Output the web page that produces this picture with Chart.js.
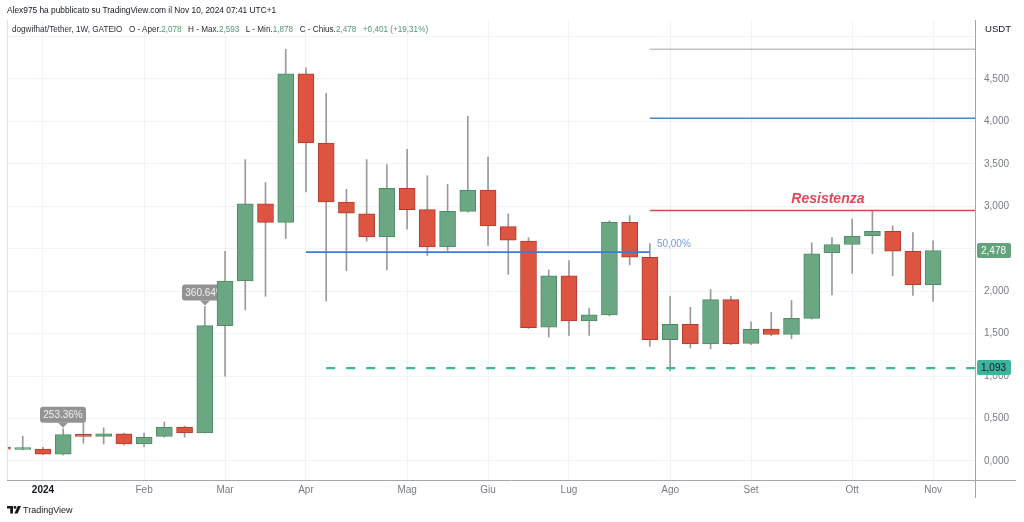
<!DOCTYPE html>
<html lang="it">
<head>
<meta charset="utf-8">
<title>dogwifhat/Tether 1W</title>
<script src="https://cdn.jsdelivr.net/npm/chart.js@4.4.1/dist/chart.umd.min.js"></script>
<style>
    html, body { margin: 0; padding: 0; background: #fff; }
    #wrap {
        position: relative; width: 1024px; height: 522px; overflow: hidden;
        font-family: "Liberation Sans", Arial, sans-serif; color: #131722;
    }
    #chart { position: absolute; left: 0; top: 0; }
    .hdr1 {
        position: absolute; left: 7px; top: 4px; font-size: 9.6px; white-space: nowrap;
        transform: scaleX(0.87); transform-origin: left center;
    }
    .hdr2 {
        position: absolute; left: 12px; top: 23px; font-size: 9.6px; white-space: nowrap; color: #2a2e39;
        transform: scaleX(0.85); transform-origin: left center;
    }
    .hdr2 .v { color: #4c9a6e; }
    .hdr2 span.sp { display: inline-block; width: 5px; }
    .usdt { position: absolute; left: 985px; top: 23px; font-size: 9.6px; }
    .footer { position: absolute; left: 7px; top: 505px; font-size: 9px; white-space: nowrap; }
    .footer svg { vertical-align: -1px; margin-right: 2px; }
</style>
</head>
<body>
<div id="wrap">
    <canvas id="chart" width="1024" height="522"></canvas>
    <div class="hdr1">Alex975 ha pubblicato su TradingView.com il Nov 10, 2024 07:41 UTC+1</div>
    <div class="hdr2">dogwifhat/Tether, 1W, GATEIO<span class="sp"></span> O - Aper.<span class="v">2,078</span><span class="sp"></span> H - Max.<span class="v">2,593</span><span class="sp"></span> L - Min.<span class="v">1,878</span><span class="sp"></span> C - Chius.<span class="v">2,478</span><span class="sp"></span> <span class="v">+0,401 (+19,31%)</span></div>
    <div class="usdt">USDT</div>
    <div class="footer"><svg width="14" height="8" viewBox="0 0 14 8"><path d="M0 0H6V7.5H3.2V2.6H0Z" fill="#131722"/><circle cx="8" cy="1.4" r="1.4" fill="#131722"/><path d="M10.8 0H14L10.6 7.5H7.4Z" fill="#131722"/></svg>TradingView</div>
</div>

<script>
// settimane (lunedì di apertura di ogni candela settimanale)
const weeks = [
    "2023-12-18", "2023-12-25", "2024-01-01", "2024-01-08", "2024-01-15", "2024-01-22",
    "2024-01-29", "2024-02-05", "2024-02-12", "2024-02-19", "2024-02-26", "2024-03-04",
    "2024-03-11", "2024-03-18", "2024-03-25", "2024-04-01", "2024-04-08", "2024-04-15",
    "2024-04-22", "2024-04-29", "2024-05-06", "2024-05-13", "2024-05-20", "2024-05-27",
    "2024-06-03", "2024-06-10", "2024-06-17", "2024-06-24", "2024-07-01", "2024-07-08",
    "2024-07-15", "2024-07-22", "2024-07-29", "2024-08-05", "2024-08-12", "2024-08-19",
    "2024-08-26", "2024-09-02", "2024-09-09", "2024-09-16", "2024-09-23", "2024-09-30",
    "2024-10-07", "2024-10-14", "2024-10-21", "2024-10-28", "2024-11-04"
];

const opens = [
    0.160, 0.135, 0.140, 0.080, 0.310, 0.290, 0.320, 0.200, 0.290, 0.400, 0.330, 1.595,
    2.120, 3.030, 2.810, 4.560, 3.745, 3.050, 2.910, 2.640, 3.210, 2.960, 2.520, 2.940,
    3.190, 2.760, 2.590, 1.575, 2.180, 1.650, 1.720, 2.810, 2.400, 1.430, 1.610, 1.380,
    1.900, 1.385, 1.555, 1.490, 1.680, 2.450, 2.550, 2.655, 2.705, 2.470, 2.078
];
const highs = [
    0.165, 0.290, 0.160, 0.380, 0.520, 0.390, 0.330, 0.330, 0.460, 0.410, 1.820, 2.470,
    3.550, 3.280, 4.850, 4.630, 4.330, 3.200, 3.550, 3.490, 3.670, 3.360, 3.260, 4.060,
    3.580, 2.910, 2.630, 2.250, 2.360, 1.800, 2.830, 2.890, 2.560, 1.940, 1.810, 2.020,
    1.940, 1.640, 1.750, 1.890, 2.570, 2.630, 2.850, 2.950, 2.770, 2.690, 2.593
];
const lows = [
    0.135, 0.130, 0.075, 0.070, 0.210, 0.200, 0.190, 0.170, 0.280, 0.280, 0.330, 1.000,
    1.780, 1.940, 2.620, 3.170, 1.885, 2.240, 2.590, 2.250, 2.730, 2.420, 2.480, 2.930,
    2.540, 2.200, 1.560, 1.460, 1.480, 1.480, 1.710, 2.310, 1.350, 1.060, 1.330, 1.320,
    1.370, 1.370, 1.475, 1.440, 1.670, 1.955, 2.210, 2.440, 2.180, 1.950, 1.878
];
const closes = [
    0.140, 0.140, 0.080, 0.310, 0.290, 0.320, 0.200, 0.280, 0.400, 0.330, 1.595, 2.120,
    3.030, 2.810, 4.560, 3.745, 3.050, 2.920, 2.640, 3.210, 2.960, 2.520, 2.940, 3.190,
    2.770, 2.600, 1.570, 2.180, 1.650, 1.720, 2.810, 2.400, 1.430, 1.610, 1.380, 1.900,
    1.380, 1.550, 1.490, 1.680, 2.440, 2.550, 2.650, 2.705, 2.470, 2.078, 2.478
];

// etichette dei mesi sull'asse del tempo (indice della settimana)
const monthIdx = [2, 7, 11, 15, 20, 24, 28, 33, 37, 42, 46];
const monthLbl = ["2024", "Feb", "Mar", "Apr", "Mag", "Giu", "Lug", "Ago", "Set", "Ott", "Nov"];

// asse dei prezzi
const priceTicks = [0, 0.5, 1, 1.5, 2, 2.5, 3, 3.5, 4, 4.5, 5];

// finestra visibile
const X_MIN = 0.272;
const X_MAX = 48.07;
const Y_MIN = -0.224;
const Y_MAX = 5.194;

// disegni: [da settimana, a settimana, prezzo]
const levelGray = [32, X_MAX, 4.850];
const levelBlue = [32, X_MAX, 4.036];
const levelResist = [32, X_MAX, 2.950];
const levelHalf = [15, 32, 2.460];
const levelSupport = [16, X_MAX, 1.093];

// etichette variazione percentuale: [settimana, testo]
const pctLabels = [[3, "253.36%"], [10, "360.64%"]];

const GREEN = "#6ba783";
const GREEN_BORDER = "#4f8a67";
const RED = "#dd5441";
const RED_BORDER = "#b13b2c";

function fmtPrice(v) {
    return v.toFixed(3).replace(".", ",");
}

function levelData(lv) {
    return [{ x: lv[0], y: lv[2] }, { x: lv[1], y: lv[2] }];
}

function levelDataset(lv, color, width, dash) {
    return {
        type: "line",
        data: levelData(lv),
        borderColor: color,
        borderWidth: width,
        borderDash: dash || [],
        pointRadius: 0,
        fill: false,
        tension: 0
    };
}

// riquadri grigi "xx%" sopra i massimi (sotto le candele)
const pctPlugin = {
    id: "pctBoxes",
    beforeDatasetsDraw(chart) {
        const ctx = chart.ctx;
        const xs = chart.scales.x;
        const ys = chart.scales.y;
        ctx.save();
        pctLabels.forEach(([i, txt]) => {
            const cx = Math.round(xs.getPixelForValue(i));
            const tip = ys.getPixelForValue(highs[i]) - 1;
            const w = 46, h = 16;
            ctx.fillStyle = "rgba(135, 135, 135, 0.9)";
            ctx.beginPath();
            ctx.roundRect(cx - w / 2, tip - 5 - h, w, h, 3);
            ctx.fill();
            ctx.beginPath();
            ctx.moveTo(cx - 5, tip - 5);
            ctx.lineTo(cx + 5, tip - 5);
            ctx.lineTo(cx, tip);
            ctx.fill();
            ctx.fillStyle = "#f2f2f2";
            ctx.font = "10px 'Liberation Sans', Arial, sans-serif";
            ctx.textAlign = "center";
            ctx.textBaseline = "middle";
            ctx.fillText(txt, cx, tip - 5 - h / 2 + 0.5);
        });
        ctx.restore();
    }
};

// testi dei disegni, cornice e prezzi sull'asse
const overlayPlugin = {
    id: "overlay",
    afterDraw(chart) {
        const ctx = chart.ctx;
        const xs = chart.scales.x;
        const ys = chart.scales.y;
        const area = chart.chartArea;
        ctx.save();

        // cornice
        ctx.strokeStyle = "#e0e3eb";
        ctx.lineWidth = 1;
        ctx.beginPath();
        ctx.moveTo(7.5, area.top);
        ctx.lineTo(7.5, area.bottom);
        ctx.stroke();
        ctx.strokeStyle = "#a3a6af";
        ctx.beginPath();
        ctx.moveTo(7, area.bottom + 0.5);
        ctx.lineTo(1016, area.bottom + 0.5);
        ctx.moveTo(area.right + 0.5, area.top);
        ctx.lineTo(area.right + 0.5, 498);
        ctx.stroke();

        // 50,00%
        ctx.fillStyle = "#6d9cf0";
        ctx.font = "10px 'Liberation Sans', Arial, sans-serif";
        ctx.textAlign = "left";
        ctx.textBaseline = "middle";
        ctx.fillText("50,00%", xs.getPixelForValue(levelHalf[1]) + 7, ys.getPixelForValue(levelHalf[2]) - 8);

        // Resistenza
        ctx.fillStyle = "#e8465a";
        ctx.font = "italic bold 14px 'Liberation Sans', Arial, sans-serif";
        ctx.textAlign = "center";
        ctx.fillText("Resistenza", xs.getPixelForValue(40.8), ys.getPixelForValue(levelResist[2]) - 11);

        // prezzi evidenziati sull'asse
        const tags = [
            [closes[closes.length - 1], "#62a37b", "#ffffff"],
            [levelSupport[2], "#3db59c", "#131722"]
        ];
        ctx.font = "10px 'Liberation Sans', Arial, sans-serif";
        ctx.textAlign = "left";
        tags.forEach(([v, bg, fg]) => {
            const y = Math.round(ys.getPixelForValue(v));
            ctx.fillStyle = bg;
            ctx.beginPath();
            ctx.roundRect(area.right + 2, y - 8, 34, 15, 2);
            ctx.fill();
            ctx.fillStyle = fg;
            ctx.fillText(fmtPrice(v), area.right + 6, y + 0.5);
        });
        ctx.restore();
    }
};

document.addEventListener("DOMContentLoaded", () => {
    const bodyData = weeks.map((w, i) => ({ x: i, y: [opens[i], closes[i]] }));
    const wickData = weeks.map((w, i) => ({ x: i, y: [lows[i], highs[i]] }));
    const up = weeks.map((w, i) => closes[i] >= opens[i]);

    new Chart(document.getElementById("chart"), {
        type: "bar",
        data: {
            datasets: [
                levelDataset(levelHalf, "#3f78dc", 1.8),
                levelDataset(levelSupport, "#3db59c", 2.2, [9, 11]),
                levelDataset(levelResist, "#d9474f", 1.6),
                levelDataset(levelBlue, "#3f8ad0", 1.6),
                levelDataset(levelGray, "#c4c4c4", 1.6),
                {
                    data: bodyData,
                    backgroundColor: up.map(u => u ? GREEN : RED),
                    borderColor: up.map(u => u ? GREEN_BORDER : RED_BORDER),
                    borderWidth: 1,
                    borderSkipped: false,
                    barThickness: 16,
                    minBarLength: 2,
                    grouped: false
                },
                {
                    data: wickData,
                    backgroundColor: "#9a9a9a",
                    borderWidth: 0,
                    barThickness: 1,
                    grouped: false
                }
            ]
        },
        options: {
            responsive: false,
            animation: false,
            devicePixelRatio: 1,
            layout: { padding: { left: 8, top: 20, right: 0, bottom: 0 } },
            plugins: {
                legend: { display: false },
                tooltip: { enabled: false }
            },
            scales: {
                x: {
                    type: "linear",
                    position: "bottom",
                    min: X_MIN,
                    max: X_MAX,
                    offset: false,
                    afterBuildTicks: s => { s.ticks = monthIdx.map(v => ({ value: v })); },
                    afterFit: s => { s.height = 42; },
                    grid: { color: "#f0f3fa", drawTicks: false, offset: false },
                    border: { display: false },
                    ticks: {
                        autoSkip: false,
                        maxRotation: 0,
                        padding: 4,
                        callback: v => monthLbl[monthIdx.indexOf(v)],
                        color: c => (c.index === 0 ? "#131722" : "#787b86"),
                        font: c => ({
                            family: "'Liberation Sans', Arial, sans-serif",
                            size: 10,
                            weight: c.index === 0 ? "bold" : "normal"
                        })
                    }
                },
                y: {
                    type: "linear",
                    position: "right",
                    min: Y_MIN,
                    max: Y_MAX,
                    afterBuildTicks: s => { s.ticks = priceTicks.map(v => ({ value: v })); },
                    afterFit: s => { s.width = 49; },
                    grid: { color: "#f0f3fa", drawTicks: false },
                    border: { display: false },
                    ticks: {
                        padding: 9,
                        color: "#787b86",
                        font: { family: "'Liberation Sans', Arial, sans-serif", size: 10 },
                        callback: v => (v === 5 ? "" : fmtPrice(v))
                    }
                }
            }
        },
        plugins: [pctPlugin, overlayPlugin]
    });
});
</script>
</body>
</html>
